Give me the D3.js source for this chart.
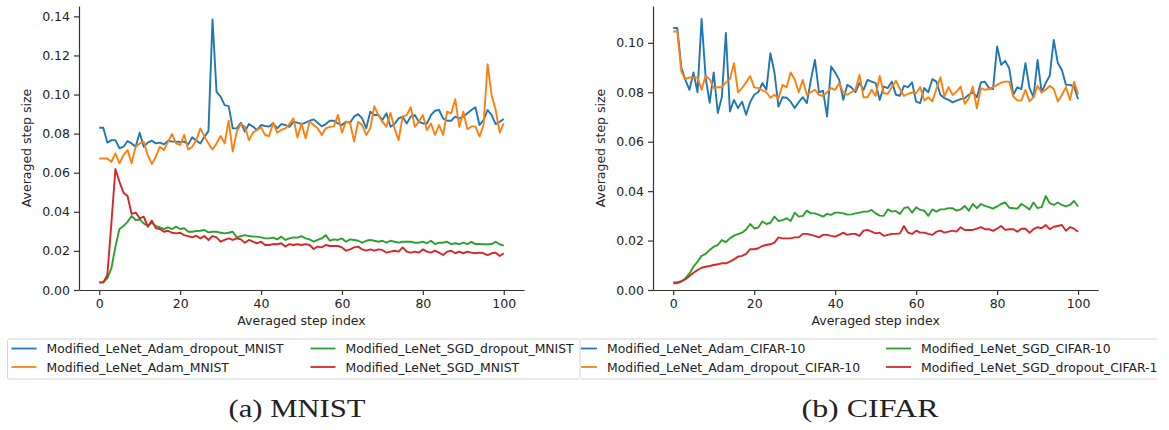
<!DOCTYPE html>
<html>
  <head>
    <meta charset="utf-8">
    <script src="https://d3js.org/d3.v7.min.js"></script>
    <title>Averaged step size</title>
    <style>
      body { margin: 0; background: #fff; }
      text { font-family: "DejaVu Sans", sans-serif; fill: #222; }
      .caption { font-family: "Liberation Serif", serif; }
    </style>
  </head>
  <body>
    <div id="plot"></div>
    <script>

    // step index on the x axis
    const steps = d3.range(0, 101);
    const xTicks = [0, 20, 40, 60, 80, 100];
    const yTicksMnist = [0, 0.02, 0.04, 0.06, 0.08, 0.10, 0.12, 0.14];
    const yTicksCifar = [0, 0.02, 0.04, 0.06, 0.08, 0.10];

    // (a) MNIST
    const mnistAdamDropout = [
      .0830, .0830, .0754, .0767, .0767, .0725, .0733, .0762, .0750, .0733,
      .0805, .0733, .0754, .0764, .0750, .0754, .0745, .0764, .0759, .0759,
      .0757, .0759, .0745, .0781, .0764, .0750, .0785, .0813, .1384, .1014,
      .0989, .0946, .0941, .0827, .0827, .0856, .0810, .0849, .0836, .0819,
      .0844, .0839, .0836, .0853, .0827, .0849, .0844, .0835, .0860, .0856,
      .0849, .0856, .0866, .0873, .0856, .0837, .0849, .0866, .0866, .0852,
      .0844, .0861, .0856, .0887, .0900, .0878, .0827, .0912, .0895, .0895,
      .0870, .0904, .0835, .0849, .0878, .0887, .0852, .0887, .0895, .0861,
      .0852, .0852, .0895, .0917, .0921, .0878, .0866, .0866, .0887, .0878,
      .0887, .0904, .0921, .0935, .0844, .0870, .0921, .0895, .0849, .0861,
      .0875];
    const mnistAdam = [
      .0673, .0673, .0673, .0656, .0699, .0648, .0690, .0716, .0648, .0733,
      .0750, .0759, .0690, .0645, .0682, .0733, .0716, .0759, .0798, .0750,
      .0742, .0793, .0719, .0733, .0767, .0827, .0785, .0750, .0719, .0750,
      .0788, .0750, .0866, .0708, .0810, .0849, .0836, .0767, .0805, .0819,
      .0832, .0793, .0788, .0856, .0805, .0819, .0827, .0849, .0878, .0780,
      .0852, .0776, .0861, .0844, .0827, .0793, .0827, .0835, .0837, .0895,
      .0805, .0861, .0856, .0759, .0861, .0844, .0793, .0827, .0941, .0895,
      .0861, .0835, .0907, .0827, .0767, .0887, .0895, .0935, .0835, .0861,
      .0895, .0818, .0852, .0793, .0844, .0793, .0912, .0904, .0976, .0835,
      .0912, .0822, .0837, .0837, .0785, .0844, .1155, .0997, .0921, .0805,
      .0852];
    const mnistSgdDropout = [
      .0039, .0039, .0060, .0111, .0222, .0312, .0327, .0349, .0379, .0358,
      .0361, .0341, .0327, .0344, .0327, .0321, .0312, .0321, .0312, .0324,
      .0312, .0316, .0298, .0298, .0302, .0303, .0307, .0295, .0298, .0298,
      .0293, .0290, .0293, .0298, .0269, .0276, .0281, .0276, .0273, .0273,
      .0269, .0264, .0264, .0268, .0259, .0273, .0256, .0264, .0269, .0268,
      .0276, .0264, .0259, .0247, .0256, .0264, .0281, .0252, .0259, .0256,
      .0264, .0247, .0259, .0256, .0252, .0242, .0252, .0256, .0252, .0247,
      .0252, .0242, .0252, .0247, .0242, .0247, .0247, .0247, .0242, .0242,
      .0247, .0239, .0252, .0235, .0242, .0242, .0247, .0235, .0239, .0235,
      .0242, .0235, .0246, .0235, .0235, .0234, .0234, .0235, .0247, .0234,
      .0227];
    const mnistSgd = [
      .0039, .0039, .0077, .0340, .0619, .0554, .0498, .0481, .0389, .0396,
      .0367, .0375, .0324, .0355, .0316, .0312, .0298, .0303, .0293, .0290,
      .0293, .0281, .0276, .0269, .0278, .0264, .0276, .0256, .0276, .0269,
      .0247, .0256, .0264, .0256, .0264, .0259, .0242, .0256, .0247, .0239,
      .0247, .0230, .0230, .0235, .0234, .0239, .0222, .0235, .0230, .0234,
      .0230, .0235, .0230, .0210, .0222, .0218, .0230, .0225, .0225, .0225,
      .0218, .0201, .0208, .0218, .0222, .0208, .0201, .0208, .0201, .0208,
      .0205, .0191, .0196, .0201, .0196, .0218, .0196, .0191, .0196, .0191,
      .0208, .0196, .0191, .0201, .0191, .0179, .0196, .0201, .0188, .0196,
      .0188, .0196, .0191, .0188, .0191, .0188, .0179, .0188, .0191, .0174,
      .0188];

    // (b) CIFAR
    const cifarAdam = [
      .1060, .1060, .0900, .0850, .0810, .0880, .0800, .1097, .0860, .0757,
      .0880, .0716, .0780, .1040, .0722, .0769, .0736, .0762, .0709, .0760,
      .0790, .0800, .0837, .0810, .0958, .0880, .0742, .0780, .0778, .0762,
      .0736, .0760, .0780, .0756, .0850, .0931, .0800, .0806, .0702, .0904,
      .0880, .0850, .0769, .0830, .0820, .0800, .0838, .0810, .0850, .0843,
      .0837, .0769, .0823, .0817, .0843, .0790, .0786, .0826, .0821, .0840,
      .0762, .0756, .0817, .0800, .0853, .0843, .0790, .0776, .0769, .0759,
      .0766, .0772, .0776, .0790, .0800, .0780, .0840, .0843, .0817, .0813,
      .0985, .0911, .0927, .0897, .0790, .0820, .0813, .0918, .0817, .0780,
      .0931, .0800, .0837, .0867, .1012, .0918, .0890, .0830, .0830, .0823,
      .0772];
    const cifarAdamDropout = [
      .1046, .1046, .0884, .0853, .0860, .0860, .0860, .0810, .0867, .0853,
      .0817, .0820, .0820, .0840, .0853, .0918, .0800, .0817, .0840, .0866,
      .0820, .0817, .0808, .0800, .0778, .0790, .0776, .0830, .0820, .0880,
      .0853, .0800, .0850, .0790, .0800, .0810, .0790, .0785, .0800, .0817,
      .0810, .0837, .0800, .0790, .0800, .0810, .0870, .0780, .0780, .0810,
      .0785, .0866, .0796, .0794, .0821, .0847, .0813, .0785, .0794, .0799,
      .0796, .0821, .0767, .0780, .0763, .0813, .0861, .0783, .0821, .0789,
      .0803, .0823, .0753, .0776, .0823, .0735, .0817, .0810, .0813, .0821,
      .0830, .0839, .0843, .0843, .0783, .0767, .0767, .0810, .0763, .0780,
      .0826, .0799, .0810, .0826, .0813, .0763, .0789, .0821, .0769, .0843,
      .0792];
    const cifarSgd = [
      .0027, .0027, .0034, .0047, .0067, .0094, .0115, .0138, .0146, .0162,
      .0175, .0182, .0202, .0194, .0209, .0220, .0226, .0232, .0245, .0267,
      .0249, .0253, .0277, .0267, .0272, .0297, .0279, .0283, .0290, .0279,
      .0313, .0297, .0300, .0321, .0310, .0310, .0304, .0297, .0308, .0304,
      .0313, .0313, .0310, .0305, .0306, .0310, .0313, .0317, .0317, .0324,
      .0310, .0301, .0300, .0326, .0317, .0320, .0308, .0331, .0335, .0313,
      .0335, .0324, .0321, .0300, .0326, .0317, .0326, .0326, .0331, .0331,
      .0321, .0326, .0340, .0321, .0348, .0331, .0348, .0340, .0335, .0329,
      .0338, .0348, .0354, .0333, .0331, .0329, .0348, .0338, .0326, .0354,
      .0331, .0335, .0380, .0351, .0344, .0354, .0344, .0338, .0344, .0360,
      .0338];
    const cifarSgdDropout = [
      .0031, .0031, .0036, .0043, .0057, .0070, .0081, .0090, .0094, .0097,
      .0101, .0104, .0108, .0108, .0115, .0124, .0135, .0138, .0146, .0165,
      .0165, .0169, .0178, .0182, .0185, .0192, .0213, .0209, .0209, .0209,
      .0213, .0213, .0227, .0227, .0223, .0219, .0213, .0223, .0223, .0219,
      .0216, .0223, .0232, .0223, .0227, .0227, .0219, .0240, .0243, .0236,
      .0229, .0232, .0219, .0223, .0227, .0227, .0229, .0259, .0232, .0227,
      .0240, .0232, .0232, .0227, .0223, .0236, .0240, .0232, .0236, .0240,
      .0236, .0254, .0243, .0243, .0243, .0248, .0254, .0246, .0246, .0239,
      .0248, .0259, .0243, .0246, .0246, .0236, .0248, .0248, .0232, .0246,
      .0254, .0250, .0263, .0246, .0256, .0259, .0263, .0240, .0254, .0248,
      .0236];

    const blue = "#1f77b4", orange = "#ff7f0e", green = "#2ca02c", red = "#d62728";

    const svg = d3.select("#plot")
      .append("svg")
        .attr("width", 1169)
        .attr("height", 430);

    // the right panel is cut off on both sides, like in the original figure
    svg.append("clipPath").attr("id", "rightClip")
      .append("rect").attr("x", 581).attr("y", 0).attr("width", 576).attr("height", 430);

    function drawPanel(g, p) {
      const x = d3.scaleLinear().domain([-5, 105]).range([p.left, p.right]);
      const y = d3.scaleLinear().domain([0, p.yMax]).range([290, 6]);

      const xAxis = g.append("g")
        .attr("transform", "translate(0,290)")
        .call(d3.axisBottom(x).tickValues(xTicks).tickSize(5).tickSizeOuter(0).tickPadding(4));
      const yAxis = g.append("g")
        .attr("transform", "translate(" + p.left + ",0)")
        .call(d3.axisLeft(y).tickValues(p.yTicks).tickFormat(d3.format(".2f"))
          .tickSize(5).tickSizeOuter(0).tickPadding(4));
      [xAxis, yAxis].forEach(function(a) {
        a.selectAll("path, line").attr("stroke", "#333").attr("stroke-width", 1.2);
        a.selectAll("text").style("font-size", "12.5px").attr("fill", "#222");
      });

      const line = d3.line()
        .x(function(d, i) { return x(steps[i]); })
        .y(function(d) { return y(d); });

      p.series.forEach(function(s) {
        g.append("path")
          .datum(s.values)
          .attr("d", line)
          .attr("fill", "none")
          .attr("stroke", s.color)
          .attr("stroke-width", 1.9)
          .attr("stroke-linejoin", "round");
      });

      // axis labels
      g.append("text")
        .text("Averaged step index")
        .attr("x", (p.left + p.right) / 2)
        .attr("y", 325)
        .attr("text-anchor", "middle")
        .style("font-size", "12.5px");
      g.append("text")
        .text("Averaged step size")
        .attr("transform", "translate(" + (p.left - 48) + ",148) rotate(-90)")
        .attr("text-anchor", "middle")
        .style("font-size", "12.5px");

      // legend, two columns
      const lg = g.append("g");
      lg.append("rect")
        .attr("x", p.legendX).attr("y", 339)
        .attr("width", p.legendW).attr("height", 40)
        .attr("rx", 2)
        .attr("fill", "#fff")
        .attr("stroke", "#d4d4d4");
      p.series.forEach(function(s, i) {
        const col = Math.floor(i / 2), row = i % 2;
        const hx = p.legendX + 4 + col * p.colStep;
        const hy = 348.5 + row * 18.5;
        lg.append("line")
          .attr("x1", hx).attr("x2", hx + 25)
          .attr("y1", hy).attr("y2", hy)
          .attr("stroke", s.color).attr("stroke-width", 1.8);
        lg.append("text")
          .text(s.name)
          .attr("x", hx + 35).attr("y", hy + 4.5)
          .style("font-size", "12.4px");
      });

      // sub caption
      g.append("text")
        .attr("class", "caption")
        .text(p.caption)
        .attr("x", p.captionX - 68.5)
        .attr("y", 417)
        .attr("textLength", 137)
        .attr("lengthAdjust", "spacingAndGlyphs")
        .style("font-size", "25px");
    }

    drawPanel(svg.append("g"), {
      left: 79, right: 524, yMax: 0.1453, yTicks: yTicksMnist,
      legendX: 7.5, legendW: 572.5, colStep: 299,
      caption: "(a) MNIST", captionX: 297,
      series: [
        { name: "Modified_LeNet_Adam_dropout_MNIST", color: blue, values: mnistAdamDropout },
        { name: "Modified_LeNet_Adam_MNIST", color: orange, values: mnistAdam },
        { name: "Modified_LeNet_SGD_dropout_MNIST", color: green, values: mnistSgdDropout },
        { name: "Modified_LeNet_SGD_MNIST", color: red, values: mnistSgd }
      ]
    });

    drawPanel(svg.append("g").attr("clip-path", "url(#rightClip)"), {
      left: 653, right: 1098.3, yMax: 0.1149, yTicks: yTicksCifar,
      legendX: 568, legendW: 640, colStep: 314,
      caption: "(b) CIFAR", captionX: 870,
      series: [
        { name: "Modified_LeNet_Adam_CIFAR-10", color: blue, values: cifarAdam },
        { name: "Modified_LeNet_Adam_dropout_CIFAR-10", color: orange, values: cifarAdamDropout },
        { name: "Modified_LeNet_SGD_CIFAR-10", color: green, values: cifarSgd },
        { name: "Modified_LeNet_SGD_dropout_CIFAR-10", color: red, values: cifarSgdDropout }
      ]
    });

    </script>
  </body>
</html>
